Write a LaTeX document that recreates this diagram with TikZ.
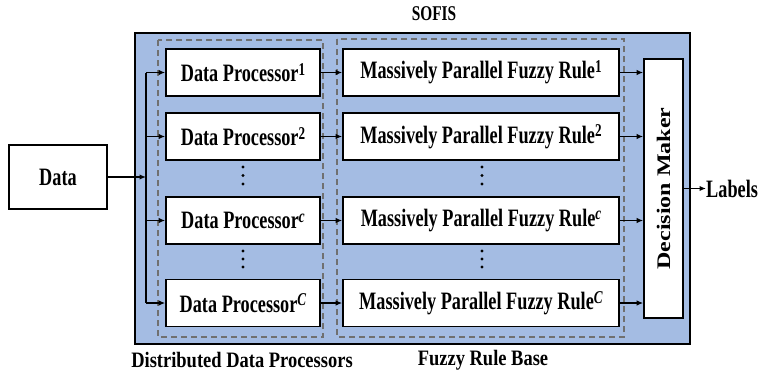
\documentclass[tikz,border=0pt]{standalone}
\usepackage{fontspec}
\setmainfont{Liberation Serif}[FakeStretch=0.73]
\newfontfamily\capfont{Liberation Serif}[FakeStretch=0.84]
\newfontfamily\rotfont{Liberation Serif}[FakeStretch=1.25]
\usetikzlibrary{arrows.meta}

\definecolor{panelblue}{RGB}{164,188,227}
\definecolor{dashgray}{RGB}{112,112,112}

% raised index after a block name
\newcommand{\blkidx}[1]{\raisebox{6.5pt}{\fontsize{18}{18}\selectfont #1}}

\tikzset{
  txt/.style={font=\fontsize{25}{28}\selectfont\bfseries},
  blk/.style={draw=black, line width=1.6pt, fill=white, txt, inner sep=0pt,
              minimum height=47pt},
  dpbox/.style={blk, minimum width=154pt},
  rulebox/.style={blk, minimum width=276pt},
  arr/.style={-{Latex[length=6.5pt,width=5.5pt]}, line width=1.3pt},
  group/.style={draw=dashgray, line width=1.6pt, dash pattern=on 6pt off 4pt},
  caption/.style={font=\capfont\fontsize{22}{24}\selectfont\bfseries, inner sep=0pt},
}

\begin{document}
\begin{tikzpicture}[x=1pt, y=-1pt]
\useasboundingbox (0,0) rectangle (761,375);

% system panel and its two groups
\draw[fill=panelblue, line width=2pt] (135,33) rectangle (690,344);
\draw[group] (158,40) rectangle (323,337);
\draw[group] (337,39) rectangle (624,337);

\node[txt, font=\fontsize{21}{24}\selectfont\bfseries, inner sep=0pt] (sofis) at (434,14) {SOFIS};

% input
\node[blk, minimum width=98pt, minimum height=64pt] (data) at (58,177) {Data};

% data processors
\node[dpbox] (dp1) at (243,72.5) {Data Processor\blkidx{1}};
\node[dpbox] (dp2) at (243,136.5) {Data Processor\blkidx{2}};
\node[dpbox] (dpc) at (243,220.5) {Data Processor\blkidx{\textit{c}}};
\node[dpbox] (dpC) at (243,303) {Data Processor\blkidx{\textit{C}}};

% fuzzy rules
\node[rulebox] (r1) at (481,72.5) {Massively Parallel Fuzzy Rule\blkidx{1}};
\node[rulebox] (r2) at (481,136.5) {Massively Parallel Fuzzy Rule\blkidx{2}};
\node[rulebox] (rc) at (481,220.5) {Massively Parallel Fuzzy Rule\blkidx{\textit{c}}};
\node[rulebox] (rC) at (481,303) {Massively Parallel Fuzzy Rule\blkidx{\textit{C}}};

% decision maker
\node[draw=black, line width=1.6pt, fill=white, minimum width=39pt, minimum height=259pt,
      inner sep=0pt] (dm) at (663.5,188.5) {};
\node[rotate=90, font=\rotfont\fontsize{19.2}{22}\selectfont\bfseries, inner sep=0pt]
      (dmtext) at (dm.center) {Decision Maker};

% output
\node[txt, anchor=west, inner sep=0pt] (labels) at (706,188.5) {Labels};

% ellipsis dots
\foreach \x in {243,482} {
  \foreach \y in {167,175.5,184,251,259,267}
    \fill (\x,\y) circle (1.7pt);
}

% distribution bus
\coordinate (bus) at (146,177);
\draw[line width=1.3pt] (bus |- dp1.west) -- (bus |- dpC.west);
\draw[arr] (data.east) -- (bus);
\foreach \n in {dp1,dp2,dpc,dpC}
  \draw[arr] (bus |- \n.west) -- (\n.west);

% processors to rules
\draw[arr] (dp1.east) -- (r1.west);
\draw[arr] (dp2.east) -- (r2.west);
\draw[arr] (dpc.east) -- (rc.west);
\draw[arr] (dpC.east) -- (rC.west);

% rules to decision maker
\foreach \n in {r1,r2,rc,rC}
  \draw[arr] (\n.east) -- (dm.west |- \n.east);

\draw[arr] (dm.east |- labels.west) -- (labels.west);

% group captions
\node[caption] (capdp) at (242,360) {Distributed Data Processors};
\node[caption] (capfr) at (483,360) {Fuzzy Rule Base};
\end{tikzpicture}
\end{document}
